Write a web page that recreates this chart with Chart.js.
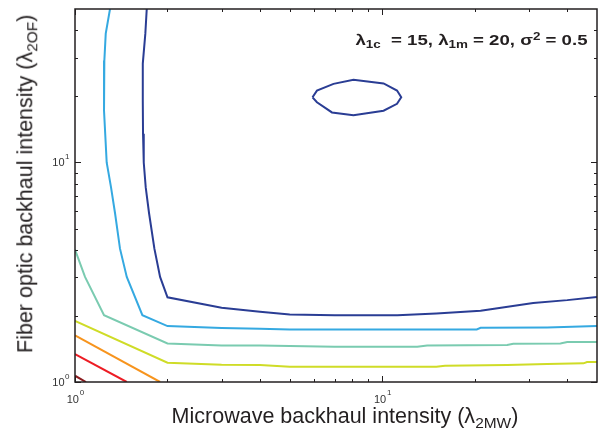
<!DOCTYPE html>
<html>
<head>
<meta charset="utf-8">
<script src="https://cdn.jsdelivr.net/npm/chart.js@4"></script>
<style>
  body { margin: 0; background: #fff; }
  #wrap { position: relative; width: 605px; height: 433px; }
  .txt { position: absolute; font-family: "Liberation Sans", Arial, sans-serif; color: #231f20; line-height: 1; white-space: nowrap; }
  .txt sub { font-size: 0.72em; vertical-align: -0.3em; line-height: 0; }
  .txt sup { font-size: 0.72em; vertical-align: 0.45em; line-height: 0; }
  #note { top: 33px; right: 18px; font-size: 14px; font-weight: bold; transform: scaleX(1.33); transform-origin: right center; }
  #xtitle { top: 406px; left: 145px; width: 400px; text-align: center; font-size: 21.5px; }
  #ytitle { top: 173px; left: -174.5px; width: 400px; height: 21.5px; text-align: center; font-size: 21.5px; transform: rotate(-90deg); }
</style>
</head>
<body>
<div id="wrap">
  <canvas id="contour-chart" width="605" height="433"></canvas>
  <div class="txt" id="note">&lambda;<sub>1c</sub> &nbsp;= 15, &lambda;<sub>1m</sub> = 20, &sigma;<sup>2</sup> = 0.5</div>
  <div class="txt" id="xtitle">Microwave backhaul intensity (&lambda;<sub>2MW</sub>)</div>
  <div class="txt" id="ytitle">Fiber optic backhaul intensity (&lambda;<sub>2OF</sub>)</div>
</div>
<script>
// contour levels (x = lambda_2MW, y = lambda_2OF)
const darkRedX = [1, 1.086];
const darkRedY = [1.068, 1];
const redX = [1, 1.474];
const redY = [1.341, 1];
const orangeX = [1, 1.892];
const orangeY = [1.63, 1];
const yellowX = [1, 2, 3, 4, 5, 15, 16, 25.5, 34.4, 45.2, 46.4, 50];
const yellowY = [1.899, 1.224, 1.199, 1.195, 1.174, 1.174, 1.186, 1.195, 1.207, 1.216, 1.233, 1.233];
const tealX = [1, 1.078, 1.243, 2, 3, 4, 5, 7, 13, 14, 25.5, 26.7, 38, 40, 50];
const tealY = [4.01, 3.01, 2.016, 1.499, 1.468, 1.468, 1.457, 1.447, 1.447, 1.468, 1.473, 1.493, 1.499, 1.52, 1.52];
const lightBlueX = [1.3, 1.259, 1.246, 1.243, 1.268, 1.31, 1.35, 1.401, 1.474, 1.657, 2, 3, 4, 5, 20.3, 20.9, 34.4, 50];
const lightBlueY = [50, 38.6, 29.1, 17.2, 10, 7.7, 5.87, 4.05, 3.01, 2.016, 1.797, 1.76, 1.747, 1.736, 1.736, 1.766, 1.773, 1.797];
const darkBlueX = [1.712, 1.694, 1.662, 1.662, 1.665, 1.674, 1.699, 1.742, 1.813, 1.892, 2, 3, 4, 5, 7, 11.2, 15, 20.9, 31, 40, 50];
const darkBlueY = [50, 38.6, 28.2, 19.1, 13.5, 10, 7.7, 5.87, 4.05, 3.01, 2.43, 2.18, 2.09, 2.03, 2.016, 2.016, 2.05, 2.11, 2.29, 2.36, 2.44];
const islandX = [5.93, 6.13, 6.94, 8.06, 10.1, 11.17, 11.53, 11.17, 10.1, 8.06, 6.86, 6.13, 5.93];
const islandY = [19.8, 21.25, 22.8, 23.8, 22.9, 21.25, 19.8, 18.5, 17.2, 16.4, 16.9, 18.8, 19.8];

// axis ticks
const tickValues = [1, 2, 3, 4, 5, 6, 7, 8, 9, 10, 20, 30, 40];
const majorTicks = [1, 10];
const majorExponents = ['0', '1'];

function pts(xs, ys) {
  return xs.map((v, i) => ({x: v, y: ys[i]}));
}

function line(xs, ys, color) {
  return {
    data: pts(xs, ys),
    showLine: true,
    borderColor: color,
    borderWidth: 2,
    pointRadius: 0,
    fill: false,
    tension: 0
  };
}

const frameTicks = {
  id: 'frameTicks',
  afterDatasetsDraw(chart) {
    const {ctx, chartArea: a, scales: {x, y}} = chart;
    ctx.save();
    ctx.strokeStyle = '#231f20';
    ctx.lineWidth = 1;
    tickValues.forEach(v => {
      const len = majorTicks.includes(v) ? 6 : 3;
      const px = Math.round(x.getPixelForValue(v)) + 0.5;
      const py = Math.round(y.getPixelForValue(v)) + 0.5;
      ctx.beginPath();
      ctx.moveTo(px, a.bottom); ctx.lineTo(px, a.bottom - len);
      ctx.moveTo(px, a.top); ctx.lineTo(px, a.top + len);
      ctx.moveTo(a.left, py); ctx.lineTo(a.left + len, py);
      ctx.moveTo(a.right, py); ctx.lineTo(a.right - len, py);
      ctx.stroke();
    });
    ctx.lineWidth = 1.5;
    ctx.strokeRect(a.left, a.top, a.right - a.left, a.bottom - a.top);

    ctx.fillStyle = '#333';
    majorTicks.forEach((v, i) => {
      const px = x.getPixelForValue(v);
      const py = y.getPixelForValue(v);
      // y axis label
      ctx.font = '11px "Liberation Sans", Arial, sans-serif';
      ctx.textAlign = 'right';
      ctx.fillText('10', a.left - 10.5, py + 4);
      ctx.font = '8px "Liberation Sans", Arial, sans-serif';
      ctx.textAlign = 'left';
      ctx.fillText(majorExponents[i], a.left - 10, py - 3);
      // x axis label
      ctx.font = '11px "Liberation Sans", Arial, sans-serif';
      ctx.fillText('10', px - 8.3, a.bottom + 20.7);
      ctx.font = '8px "Liberation Sans", Arial, sans-serif';
      ctx.fillText(majorExponents[i], px + 4.7, a.bottom + 13);
    });
    ctx.restore();
  }
};

new Chart(document.getElementById('contour-chart'), {
  type: 'scatter',
  data: {
    datasets: [
      line(darkRedX, darkRedY, '#8c1c1f'),
      line(redX, redY, '#ed1c24'),
      line(orangeX, orangeY, '#f7941d'),
      line(yellowX, yellowY, '#cfdc27'),
      line(tealX, tealY, '#7acbb0'),
      line(lightBlueX, lightBlueY, '#35a9e1'),
      line(darkBlueX, darkBlueY, '#2a3d94'),
      line(islandX, islandY, '#2a3d94')
    ]
  },
  options: {
    responsive: false,
    animation: false,
    devicePixelRatio: 1,
    layout: {padding: {left: 75, right: 8, top: 9, bottom: 51}},
    plugins: {legend: {display: false}, tooltip: {enabled: false}},
    scales: {
      x: {type: 'logarithmic', min: 1, max: 50, display: false},
      y: {type: 'logarithmic', min: 1, max: 50, display: false}
    }
  },
  plugins: [frameTicks]
});
</script>
</body>
</html>
